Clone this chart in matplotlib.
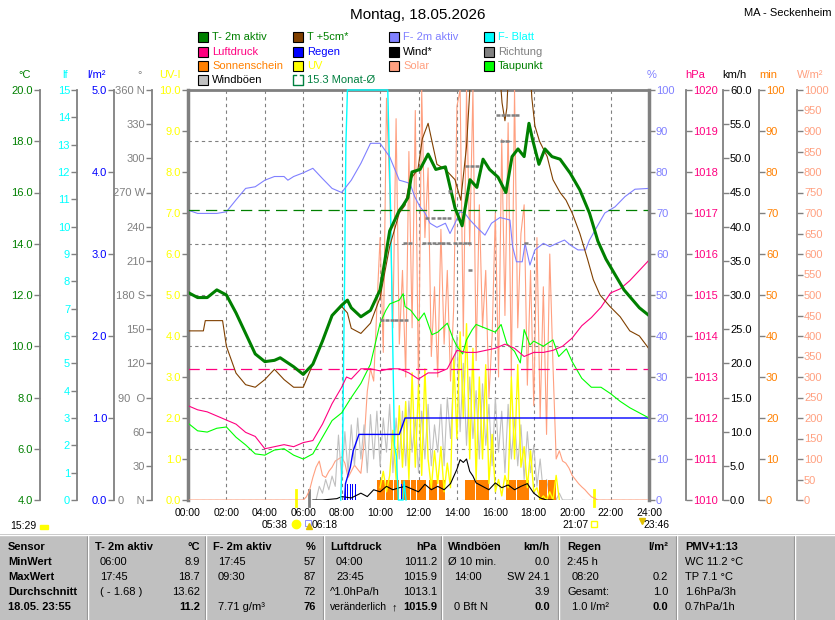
import matplotlib
matplotlib.use('Agg')
import matplotlib.pyplot as plt
from matplotlib.patches import Rectangle
from matplotlib.lines import Line2D
import numpy as np

plt.rcParams['font.family'] = ['Liberation Sans', 'DejaVu Sans']


def hm(s):
    hh, mm = s.split(':')
    return int(hh) + int(mm) / 60.0


def hms(txt):
    return [hm(s) for s in txt.split()]


# ---------------- data ----------------
# T- 2m aktiv, degC
t2m_h = [0, 0.5, 1, 1.5, 2, 2.5, 3, 3.5, 4, 4.5, 4.8, 5.5, 6, 6.5, 7, 7.5, 8, 8.3, 8.5, 9,
         9.5, 10, 10.5, 11, 11.2, 11.45, 11.66, 12.08, 12.5, 12.9, 13.4, 13.9, 14.27, 14.68,
         15.04, 15.36, 15.7, 16.14, 16.55, 16.87, 17.18, 17.5, 17.75, 17.96, 18.27, 18.58,
         18.95, 19.37, 19.9, 20.4, 20.9, 21.34, 21.76, 22.23, 22.7, 23.5, 24]
t2m_v = [12.1, 11.9, 11.9, 12.2, 12.0, 11.3, 10.5, 9.7, 9.4, 9.45, 9.55, 9.2, 8.9, 9.3, 10.2,
         11.2, 11.6, 11.8, 11.5, 11.15, 11.4, 12.2, 14.5, 15.3, 15.5, 15.8, 16.8, 16.9, 17.5,
         16.9, 17.0, 15.4, 14.7, 16.5, 16.2, 17.3, 16.9, 16.6, 16.0, 17.4, 17.7, 17.4, 18.7,
         18.0, 17.1, 17.7, 17.4, 17.3, 16.75, 16.1, 15.2, 14.1, 13.4, 12.8, 12.2, 11.5, 11.2]

# T +5cm, degC
t5_h = [0, 0.8, 0.9, 1.8, 2, 2.5, 3, 3.5, 4, 4.5, 5, 5.5, 6, 6.5, 7, 7.5, 8, 8.3, 8.5, 9, 9.5,
        10, 10.5, 11, 11.3, 11.56, 11.97, 12.2, 12.5, 12.7, 12.96, 13.4, 13.9, 14.2, 14.5,
        14.75, 16.2, 16.35, 16.5, 16.6, 16.7, 17.8, 17.9, 18.06, 18.3, 18.7, 19.0, 19.37,
        19.68, 20.0, 20.4, 20.8, 21.1, 21.45, 21.97, 22.5, 23.0, 23.5, 24]
t5_v = [10.6, 10.6, 11.0, 11.0, 10.0, 8.95, 8.5, 8.4, 8.7, 9.1, 8.7, 8.4, 8.4, 9.3, 10.2, 11.2,
        11.55, 11.3, 10.7, 10.5, 10.9, 11.9, 13.9, 15.2, 15.5, 16.5, 16.9, 18.1, 18.7, 18.0,
        17.1, 16.9, 16.5, 15.7, 17.8, 21.0, 21.0, 19.5, 18.8, 19.3, 21.0, 21.0, 19.7, 18.6,
        18.0, 17.4, 16.5, 16.0, 15.7, 15.2, 14.4, 13.4, 12.6, 12.0, 11.55, 11.15, 10.6, 10.4, 9.9]

# F- 2m aktiv, %
f2m_h = [0, 0.5, 1, 1.5, 2, 2.5, 3, 3.5, 4, 4.5, 5, 5.2, 5.5, 6, 6.5, 7, 7.5, 8, 8.5, 9, 9.5,
         10, 10.5, 11, 11.3, 11.56, 11.8, 12.08, 12.34, 12.6, 12.96, 13.4, 13.64, 13.9, 14.16,
         14.4, 14.68, 15.1, 15.46, 15.8, 16.24, 16.76, 16.9, 17.1, 17.4, 17.55, 17.8, 18.06,
         18.5, 18.84, 19.2, 19.6, 19.9, 20.3, 20.7, 20.9, 21.3, 21.7, 22.23, 22.75, 23.27, 24]
f2m_v = [70.7, 69.9, 69.9, 69.9, 70.3, 73.2, 76.0, 76.4, 78.0, 78.9, 78.9, 78.0, 78.9, 79.8,
         80.9, 78.4, 76.0, 75.0, 78.0, 82.1, 87.0, 87.0, 83.7, 78.0, 77.6, 77.2, 74.0, 71.5,
         70.0, 67.5, 66.5, 67.5, 65.0, 67.5, 70.3, 70.0, 68.3, 66.2, 64.6, 67.5, 68.9, 68.3,
         61.8, 58.1, 58.1, 62.6, 57.3, 61.0, 62.6, 61.8, 62.6, 63.4, 62.2, 61.0, 61.0, 63.4,
         66.7, 70.0, 71.5, 74.0, 75.8, 76.0]

# Luftdruck, hPa
press_h = [0, 0.5, 1, 1.5, 2, 2.5, 3, 3.5, 4, 4.5, 5, 5.5, 6, 6.5, 7, 7.5, 8, 8.25, 8.5, 9, 9.5,
           10, 10.5, 11, 11.5, 12, 12.5, 13, 13.5, 14, 14.5, 15, 15.5, 16, 16.5, 17, 17.5, 18,
           18.5, 19, 19.5, 20, 20.5, 21, 21.5, 22, 22.5, 23, 23.5, 24]
press_v = [1012.3, 1012.2, 1012.15, 1012.05, 1011.95, 1011.85, 1011.65, 1011.55, 1011.25,
           1011.3, 1011.35, 1011.3, 1011.4, 1011.45, 1011.85, 1012.35, 1012.75, 1013.0,
           1012.95, 1013.2, 1013.2, 1013.15, 1013.2, 1013.2, 1013.1, 1012.95, 1013.1, 1013.1,
           1013.2, 1013.65, 1013.6, 1013.6, 1013.65, 1013.7, 1013.8, 1013.7, 1013.5, 1013.6,
           1013.6, 1013.65, 1013.75, 1013.95, 1014.25, 1014.45, 1014.7, 1015.05, 1015.15,
           1015.35, 1015.6, 1015.85]
press_mean = 1013.2

# Taupunkt, degC
dew_h = [0, 0.5, 1, 1.5, 2, 2.5, 3, 3.5, 4, 4.5, 5, 5.5, 6, 6.5, 7, 7.5, 8, 8.5, 9, 9.5, 10,
         10.3, 10.5, 11, 11.2, 11.3, 11.6, 12, 12.3, 12.7, 13, 13.5, 13.8, 14, 14.3, 14.5, 14.8,
         15, 15.5, 16, 16.3, 16.6, 17, 17.3, 17.5, 17.8, 18, 18.5, 19, 19.3, 19.7, 20, 20.5,
         21, 21.5, 22, 22.5, 23, 23.5, 24]
dew_v = [7.0, 6.7, 6.65, 6.8, 6.85, 6.45, 6.15, 5.8, 5.75, 5.95, 6.0, 5.75, 5.6, 5.8, 6.45,
         7.1, 7.4, 8.0, 8.55, 9.3, 10.9, 11.4, 11.65, 11.8, 12.05, 11.55, 11.4, 11.0, 11.3,
         10.45, 10.55, 10.9, 10.3, 10.0, 9.7, 10.25, 10.65, 10.85, 10.7, 10.55, 10.85, 10.1,
         9.8, 9.35, 10.65, 10.05, 10.2, 10.0, 10.25, 9.6, 9.9, 9.4, 8.75, 8.4, 8.4, 8.15,
         7.85, 7.6, 7.4, 7.2]

month_mean = 15.3

# Regen cumulative l/m2 and rain bars
rain_h = [8.15, 8.2, 8.45, 8.6, 8.9, 11.0, 11.15, 11.3, 24]
rain_v = [0, 0.2, 0.4, 0.6, 0.8, 0.8, 0.9, 1.0, 1.0]
rain_bar_h = [8.2, 8.32, 8.45, 8.58, 8.72, 11.12, 11.22]
rain_bar_v = [0.2, 0.2, 0.2, 0.2, 0.2, 0.2, 0.2]

# F- Blatt (leaf wetness)
leaf_h = [7.95, 8.05, 8.15, 8.22, 8.3, 10.4, 10.45, 10.55, 10.65, 10.75, 10.85, 10.95, 11.2,
          11.25, 11.35]
leaf_v = [0, 2, 8, 13, 15, 15, 13.5, 10.5, 6, 2, 1.6, 0, 0, 0.7, 0]

# Solar W/m2
solar_h = hms("00:00 06:00 06:10 06:20 06:30 06:40 06:50 07:00 07:10 07:20 07:30 07:40 07:50 "
              "08:00 08:10 08:20 08:30 08:40 08:50 09:00 09:10 09:20 09:30 09:40 09:50 "
              "10:00 10:10 10:20 10:30 10:40 10:50 11:00 11:10 11:20 11:30 11:40 11:50 "
              "12:00 12:10 12:20 12:30 12:40 12:50 13:00 13:10 13:20 13:30 13:40 13:50 "
              "14:00 14:10 14:20 14:30 14:40 14:50 15:00 15:10 15:20 15:30 15:40 15:50 "
              "16:00 16:10 16:20 16:30 16:40 16:50 17:00 17:10 17:20 17:30 17:40 17:50 "
              "18:00 18:10 18:20 18:30 18:40 18:50 19:00 19:10 19:20 19:30 19:40 19:50 "
              "20:00 20:10 20:20 20:30 20:40 20:50 21:00 21:10 21:20 24:00")
solar_v = [0, 0, 8, 25, 55, 80, 95, 60, 55, 70, 80, 95, 100,
           105, 90, 55, 70, 85, 75, 65, 140, 265, 320, 290, 470,
           640, 360, 980, 760, 420, 930, 380, 560, 300, 850, 420, 950,
           260, 1000, 640, 810, 350, 520, 300, 660, 380, 560, 290, 470,
           960, 1000, 400, 1000, 620, 1000, 340, 720, 420, 560, 250, 400,
           700, 300, 880, 450, 920, 300, 1000, 420, 650, 720, 280, 560,
           230, 640, 200, 520, 160, 600, 330, 100, 120, 95, 90, 78,
           60, 50, 40, 32, 25, 16, 8, 4, 0, 0]

# UV index
uv_h = hms("10:00 10:10 10:20 10:30 10:40 10:50 11:00 11:10 11:20 11:30 11:40 11:50 "
           "12:00 12:10 12:20 12:30 12:40 12:50 13:00 13:10 13:20 13:30 13:40 13:50 "
           "14:00 14:10 14:20 14:30 14:40 14:50 15:00 15:10 15:20 15:30 15:40 15:50 "
           "16:00 16:10 16:20 16:30 16:40 16:50 17:00 17:10 17:20 17:30 17:40 17:50 "
           "18:00 18:10 18:20 18:30 18:40 18:50 19:00 19:10 19:20")
uv_v = [0.3, 0.7, 0.2, 0.6, 1.7, 0.5, 2.3, 0.8, 2.4, 0.5, 3.1, 0.8,
        2.8, 0.6, 3.2, 1.0, 0.3, 1.2, 0.4, 1.3, 0.2, 0.9, 0.3, 3.5,
        1.5, 4.1, 2.0, 4.3, 1.0, 3.7, 0.5, 3.0, 1.0, 3.3, 0.4, 1.6,
        0.2, 0.5, 0.1, 0.6, 0.3, 3.0, 1.0, 3.3, 0.8, 1.3, 0.3, 1.2,
        0.2, 0.3, 0.0, 0.1, 0.0, 0.2, 0.0, 0.6, 0.0]

# Windboeen km/h
gust_h = hms("06:40 06:50 07:00 07:10 07:20 07:30 07:40 07:50 08:00 08:10 08:20 08:30 08:40 "
             "08:50 09:00 09:10 09:20 09:30 09:40 09:50 10:00 10:10 10:20 10:30 10:40 10:50 "
             "11:00 11:10 11:20 11:30 11:40 11:50 12:00 12:10 12:20 12:30 12:40 12:50 "
             "13:00 13:10 13:20 13:30 13:40 13:50 14:00 14:10 14:20 14:30 14:40 14:50 "
             "15:00 15:10 15:20 15:30 15:40 15:50 16:00 16:10 16:20 16:30 16:40 16:50 "
             "17:00 17:10 17:20 17:30 17:40 17:50 18:00 18:10 18:20 18:30 18:40 18:50 "
             "19:00 19:10 19:20 19:30 20:00")
gust_v = [0, 2, 1, 3, 1.5, 3.5, 2, 9.5, 3, 10, 4, 11, 5,
          12, 6, 11, 4, 12.5, 6, 13, 5, 12, 7, 14, 4, 12,
          6, 13, 5, 14.5, 7, 12, 4, 13, 6, 14, 5, 11,
          7, 14, 5, 15, 9, 18, 24.1, 10, 20, 8, 18, 9,
          16, 6, 17, 8, 14, 5, 15, 7, 13, 4, 14, 6,
          12, 5, 11, 3, 10, 4, 8, 2, 6, 1, 3, 0.5,
          2, 0, 1, 0, 0]

# Wind* km/h
wind_h = hms("06:30 07:00 07:45 08:00 08:30 09:00 09:20 09:40 10:00 10:20 10:40 11:00 11:20 "
             "11:40 12:00 12:20 12:40 13:00 13:20 13:40 14:00 14:10 14:20 14:30 14:40 14:50 "
             "15:00 15:20 15:40 16:00 16:20 16:40 17:00 17:20 17:40 18:00 18:20 18:40 19:00")
wind_v = [0, 0, 0.2, 0.5, 0.3, 1.0, 0.5, 1.5, 1.2, 2.0, 1.5, 1.8, 2.0,
          1.6, 1.2, 2.3, 1.5, 2.0, 1.5, 2.4, 4.5, 5.9, 5.5, 6.0, 4.2, 3.5,
          2.5, 2.0, 1.5, 2.5, 1.8, 2.2, 1.5, 2.0, 2.4, 1.0, 0.3, 0, 0]

# Richtung (degrees)
dir_h = [10.1, 10.35, 10.6, 10.85, 11.1, 11.35, 11.3, 11.55, 12.3, 12.55, 12.8, 13.05, 13.3,
         13.55, 12.45, 12.75, 13.05, 13.35, 13.6, 13.65, 13.9, 14.15, 14.4, 14.65, 14.55, 14.8,
         15.05, 14.7, 16.15, 16.4, 16.65, 16.9, 17.15, 16.35, 16.6, 17.6]
dir_v = [158, 158, 158, 158, 158, 158, 226, 226, 226, 226, 226, 226, 226, 226, 248, 248, 248,
         248, 248, 271, 226, 226, 226, 226, 293, 293, 293, 202, 338, 338, 338, 338, 338, 315,
         315, 226]

# Sonnenschein periods (minutes per 5 min)
sun_start = ["09:51", "10:18", "10:43", "11:05", "11:36", "11:54", "12:33", "13:03",
             "14:25", "15:00", "16:33", "17:09", "18:17", "18:45"]
sun_end = ["10:15", "10:39", "11:00", "11:33", "11:51", "12:23", "12:57", "13:23",
           "14:57", "15:41", "17:06", "17:46", "18:42", "19:10"]
sun_min = [5, 5, 5, 5, 5, 5, 5, 5, 5, 5, 5, 5, 5, 5]

sunrise, dawn, sunset, moonset, moonrise = "05:38", "06:18", "21:07", "23:46", "15:29"

# ---------------- figure ----------------
W, H = 835, 620
fig = plt.figure(figsize=(W / 100, H / 100), dpi=100)


def fx(x):
    return x / W


def fy(y):
    return 1 - y / H


PL, PR, PT, PB = 188, 649, 90, 500
GRAY = '#808080'
ax = fig.add_axes([fx(PL), fy(PB), (PR - PL) / W, (PB - PT) / H])
ax.set_xlim(0, 24)
ax.set_ylim(0, 8)
ax.set_xticks(range(0, 25, 2))
ax.set_xticklabels([f'{h:02d}:00' for h in range(0, 25, 2)])
ax.set_yticks(range(0, 9))
ax.set_yticklabels([])
ax.tick_params(length=0, labelsize=7.5, pad=6)
ax.grid(True, color=GRAY, linestyle=(0, (3, 3)), linewidth=0.8)
for s in ['left', 'right']:
    ax.spines[s].set_color(GRAY)
    ax.spines[s].set_linewidth(2.5)
ax.spines['top'].set_color(GRAY)
ax.spines['top'].set_linewidth(2)
ax.spines['bottom'].set_visible(False)


def layer(lo, hi):
    a = fig.add_axes(ax.get_position(), sharex=ax)
    a.set_ylim(lo, hi)
    a.axis('off')
    a.patch.set_visible(False)
    return a


# series layers
L = layer(0, 1000)
L.plot(solar_h, solar_v, color='#FFA080', lw=0.8)
L = layer(0, 60)
L.plot(gust_h, gust_v, color='#C0C0C0', lw=0.8)
L = layer(0, 100)
for s, e, v in zip(sun_start, sun_end, sun_min):
    L.bar(hm(s), v, width=hm(e) - hm(s), align='edge', color='#FF8000', lw=0)
L = layer(0, 10)
L.plot(uv_h, uv_v, color='#FFFF00', lw=1)
L = layer(0, 5)
L.bar(rain_bar_h, rain_bar_v, width=0.05, color='#0000FF', lw=0)
L = layer(0, 60)
L.plot(wind_h, wind_v, color='black', lw=0.8)
L = layer(0, 15)
L.plot(leaf_h, leaf_v, color='#00FFFF', lw=1, clip_on=False)
L = layer(0, 5)
L.plot(rain_h, rain_v, color='#0000FF', lw=1)
L = layer(4, 20)
L.plot(dew_h, dew_v, color='#00FF00', lw=0.8)
L = layer(1010, 1020)
L.axhline(press_mean, color='#FF0080', lw=0.9, dashes=(9, 5))
L.plot(press_h, press_v, color='#FF0080', lw=0.8)
L = layer(0, 100)
L.plot(f2m_h, f2m_v, color='#8080FF', lw=0.8)
L = layer(4, 20)
L.axhline(month_mean, color='#008000', lw=0.9, dashes=(9, 5))
L.plot(t5_h, t5_v, color='#804000', lw=0.8)
L.plot(t2m_h, t2m_v, color='#008000', lw=2.2)
L = layer(0, 360)
L.plot(dir_h, dir_v, ls='none', marker='_', ms=3.5, mew=1.8, color=GRAY)

# sunrise / sunset marks below the plot
ax.axvline(hm(sunrise), ymin=-0.015, ymax=0.025, color='#FFFF00', lw=2, clip_on=False)
ax.axvline(hm(dawn), ymin=-0.015, ymax=0.025, color=GRAY, lw=2, clip_on=False)
ax.axvline(hm(sunset), ymin=-0.015, ymax=0.025, color='#FFFF00', lw=2, clip_on=False)
xt = ax.get_xaxis_transform()
ax.text(hm(sunrise) - 0.45, -0.061, sunrise, transform=xt, ha='right', va='center', fontsize=7.5)
ax.plot(hm(sunrise), -0.058, 'o', ms=6, color='#FFFF00', transform=xt, clip_on=False)
ax.plot(hm(dawn) - 0.05, -0.055, 's', ms=4, mfc='none', mec='#8080FF', mew=0.6,
        transform=xt, clip_on=False)
ax.plot(hm(dawn), -0.063, '^', ms=5, color='#E0C000', transform=xt, clip_on=False)
ax.text(hm(dawn) + 0.15, -0.061, dawn, transform=xt, ha='left', va='center', fontsize=7.5)
ax.text(hm(sunset) - 0.25, -0.061, sunset, transform=xt, ha='right', va='center', fontsize=7.5)
ax.plot(hm(sunset), -0.058, 's', ms=4, mfc='none', mec='#FFFF00', mew=1, transform=xt,
        clip_on=False)
ax.plot(hm(moonset) - 0.15, -0.052, 'v', ms=5, color='#E0C000', transform=xt, clip_on=False)
ax.text(hm(moonset) - 0.05, -0.061, moonset, transform=xt, ha='left', va='center', fontsize=7.5)
fig.text(fx(10), fy(526), moonrise, ha='left', va='center', fontsize=7.5)
fig.patches.append(Rectangle((fx(40), fy(529)), 8 / W, 4 / H, transform=fig.transFigure,
                             color='#FFFF00'))


# scale axes
def scale_axis(xpix, lo, hi, step, fmt, color, side, labels=None):
    w = 10
    if side == 'left':
        a = fig.add_axes([fx(xpix), fy(PB), w / W, (PB - PT) / H])
        keep = 'left'
    else:
        a = fig.add_axes([fx(xpix - w), fy(PB), w / W, (PB - PT) / H])
        a.yaxis.tick_right()
        keep = 'right'
    for s in a.spines:
        a.spines[s].set_visible(s == keep)
    a.spines[keep].set_color(GRAY)
    a.spines[keep].set_linewidth(1.3)
    a.patch.set_visible(False)
    a.set_xticks([])
    a.set_ylim(lo, hi)
    ticks = np.arange(lo, hi + step / 2, step)
    a.set_yticks(ticks)
    a.set_yticklabels(labels if labels else [fmt.format(t) for t in ticks])
    a.tick_params(axis='y', direction='out', length=4, width=1, color=GRAY,
                  labelcolor=color, labelsize=8, pad=1)
    return a


dir_labels = ['0    N', '30', '60', '90  O', '120', '150', '180 S', '210', '240', '270 W',
              '300', '330', '360 N']
scale_axis(40, 4, 20, 2, '{:.1f}', '#008000', 'left')
scale_axis(77, 0, 15, 1, '{:.0f}', '#00FFFF', 'left')
scale_axis(114, 0, 5, 1, '{:.1f}', '#0000FF', 'left')
scale_axis(152, 0, 360, 30, '{:.0f}', GRAY, 'left', dir_labels)
scale_axis(188, 0, 10, 1, '{:.1f}', '#FFFF00', 'left')
scale_axis(649, 0, 100, 10, '{:.0f}', '#8080FF', 'right')
scale_axis(686, 1010, 1020, 1, '{:.0f}', '#FF0080', 'right')
scale_axis(723, 0, 60, 5, '{:.1f}', 'black', 'right')
scale_axis(759, 0, 100, 10, '{:.0f}', '#FF8000', 'right')
scale_axis(797, 0, 1000, 50, '{:.0f}', '#FFA080', 'right')

units = [(25, '°C', '#008000'), (65, 'lf', '#00FFFF'), (96, 'l/m²', '#0000FF'),
         (140, '°', GRAY), (170, 'UV-I', '#FFFF00'), (652, '%', '#8080FF'),
         (695, 'hPa', '#FF0080'), (734, 'km/h', 'black'), (768, 'min', '#FF8000'),
         (810, 'W/m²', '#FFA080')]
for x, t, c in units:
    fig.text(fx(x), fy(75), t, ha='center', va='center', fontsize=8, color=c)

# title
fig.text(fx(418), fy(15), 'Montag, 18.05.2026', ha='center', va='center', fontsize=11)
fig.text(fx(831), fy(13), 'MA - Seckenheim', ha='right', va='center', fontsize=8)

# legend
legend = [
    (0, 0, 'T- 2m aktiv', '#008000', '#008000'),
    (1, 0, 'T +5cm*', '#804000', '#008000'),
    (2, 0, 'F- 2m aktiv', '#8080FF', '#8080FF'),
    (3, 0, 'F- Blatt', '#00FFFF', '#00FFFF'),
    (0, 1, 'Luftdruck', '#FF0080', '#FF0080'),
    (1, 1, 'Regen', '#0000FF', '#0000FF'),
    (2, 1, 'Wind*', 'black', 'black'),
    (3, 1, 'Richtung', GRAY, GRAY),
    (0, 2, 'Sonnenschein', '#FF8000', '#FF8000'),
    (1, 2, 'UV', '#FFFF00', '#FFFF00'),
    (2, 2, 'Solar', '#FFA080', '#FFA080'),
    (3, 2, 'Taupunkt', '#00FF00', '#008000'),
    (0, 3, 'Windböen', '#C0C0C0', 'black'),
]
col_x = [198, 293, 389, 484]
row_y = [37, 52, 66, 80]
for c, r, t, fc, tc in legend:
    x, y = col_x[c], row_y[r]
    fig.patches.append(Rectangle((fx(x), fy(y + 5)), 10 / W, 10 / H, transform=fig.transFigure,
                                 facecolor=fc, edgecolor='black', lw=0.8))
    fig.text(fx(x + 14), fy(y), t, ha='left', va='center', fontsize=8, color=tc)
x, y = col_x[1], row_y[3]
fig.lines.append(Line2D([fx(x + 3), fx(x), fx(x), fx(x + 10), fx(x + 10), fx(x + 7)],
                        [fy(y - 5), fy(y - 5), fy(y + 5), fy(y + 5), fy(y - 5), fy(y - 5)],
                        transform=fig.transFigure, color='#008040', lw=1))
fig.text(fx(x + 14), fy(y), f'{month_mean} Monat-Ø', ha='left', va='center', fontsize=8,
         color='#008040')

# statistics table
fig.patches.append(Rectangle((0, 0), 1, fy(534), transform=fig.transFigure,
                             facecolor='#C0C0C0', edgecolor='none'))
for xs in [88, 206, 324, 442, 559, 677, 795]:
    fig.lines.append(Line2D([fx(xs - 1), fx(xs - 1)], [fy(535), 0], transform=fig.transFigure,
                            color=GRAY, lw=0.8))
    fig.lines.append(Line2D([fx(xs), fx(xs)], [fy(535), 0], transform=fig.transFigure,
                            color='white', lw=1))
fig.lines.append(Line2D([0, 1], [fy(535), fy(535)], transform=fig.transFigure,
                        color='white', lw=1))

rows_y = [547, 562, 577, 592, 607]
first_col = ['Sensor', 'MinWert', 'MaxWert', 'Durchschnitt', '18.05. 23:55']
for y, t in zip(rows_y, first_col):
    fig.text(fx(8), fy(y), t, ha='left', va='center', fontsize=8, weight='bold')

table_cols = [
    (95, 100, 200, 'T- 2m aktiv', '°C',
     ['06:00', '17:45', '( - 1.68 )', ''], ['8.9', '18.7', '13.62', '11.2']),
    (213, 218, 316, 'F- 2m aktiv', '%',
     ['17:45', '09:30', '', '7.71 g/m³'], ['57', '87', '72', '76']),
    (330, 336, 437, 'Luftdruck', 'hPa',
     ['04:00', '23:45', '^1.0hPa/h', 'veränderlich'], ['1011.2', '1015.9', '1013.1', '1015.9']),
    (448, 454, 550, 'Windböen', 'km/h',
     ['Ø 10 min.', '14:00', '', '0 Bft N'], ['0.0', 'SW 24.1', '3.9', '0.0']),
    (567, 572, 668, 'Regen', 'l/m²',
     ['2:45 h', '08:20', 'Gesamt:', '1.0 l/m²'], ['', '0.2', '1.0', '0.0']),
]
for hx, lx, rx, head, unit, lefts, rights in table_cols:
    fig.text(fx(hx), fy(rows_y[0]), head, ha='left', va='center', fontsize=8, weight='bold')
    fig.text(fx(rx), fy(rows_y[0]), unit, ha='right', va='center', fontsize=8, weight='bold')
    for i, (lt, rt) in enumerate(zip(lefts, rights)):
        y = rows_y[i + 1]
        lxx = hx if lt in ('Ø 10 min.', 'Gesamt:', '2:45 h', '^1.0hPa/h', 'veränderlich') else lx
        fs = 7.5 if lt == 'veränderlich' else 8
        fig.text(fx(lxx), fy(y), lt, ha='left', va='center', fontsize=fs)
        fig.text(fx(rx), fy(y), rt, ha='right', va='center', fontsize=8,
                 weight='bold' if i == 3 else 'normal')
fig.text(fx(394), fy(rows_y[4]), '↑', ha='center', va='center', fontsize=8, weight='bold')

pmv = ['PMV+1:13', 'WC 11.2 °C', 'TP 7.1 °C', '1.6hPa/3h', '0.7hPa/1h']
for i, (y, t) in enumerate(zip(rows_y, pmv)):
    fig.text(fx(685), fy(y), t, ha='left', va='center', fontsize=8,
             weight='bold' if i == 0 else 'normal')

fig.savefig('out.png', dpi=100)
